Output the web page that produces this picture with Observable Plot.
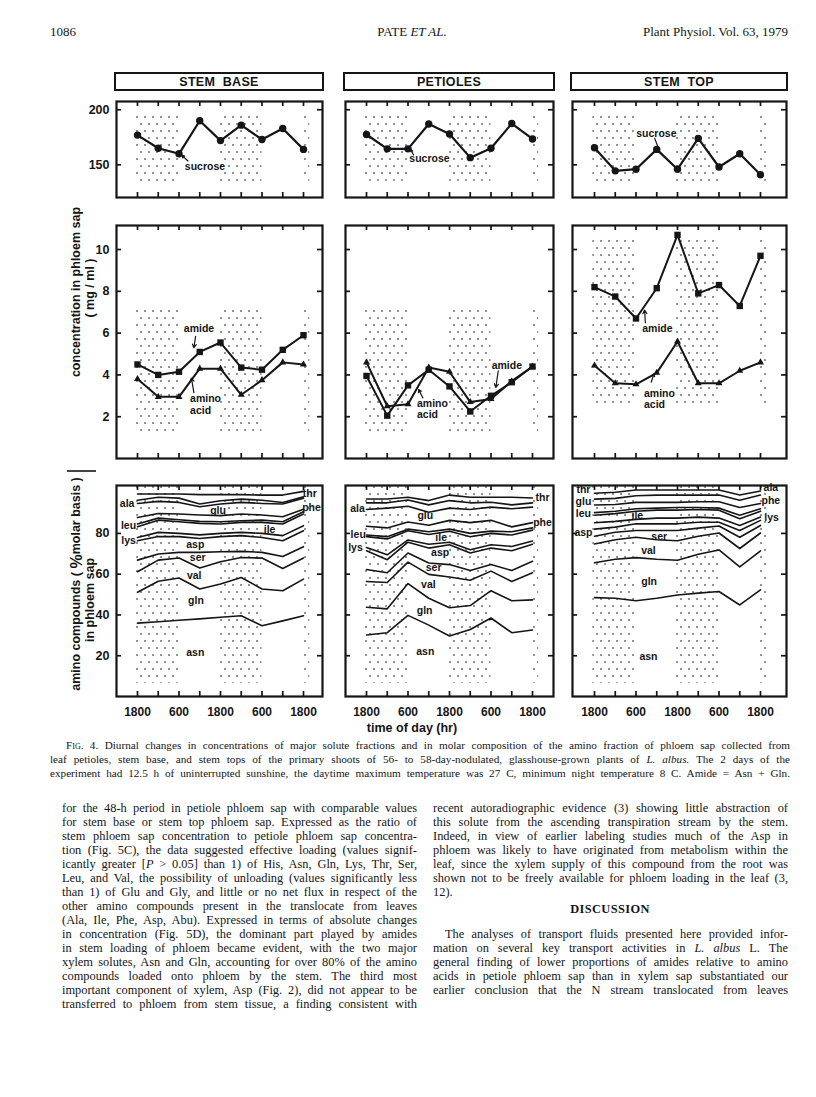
<!DOCTYPE html>
<html>
<head>
<meta charset="utf-8">
<script src="https://cdn.jsdelivr.net/npm/d3@7"></script>
<script src="https://cdn.jsdelivr.net/npm/@observablehq/plot@0.6"></script>
<style>
html,body{margin:0;padding:0;background:#fff;}
#page{position:relative;width:816px;height:1097px;overflow:hidden;background:#fff;color:#151515;}
.t{position:absolute;white-space:nowrap;font-family:"Liberation Serif","Times New Roman",serif;color:#151515;line-height:1;}
.box{position:absolute;border:2px solid #151515;box-sizing:border-box;font-family:"Liberation Sans",Arial,sans-serif;font-weight:bold;font-size:12.5px;white-space:pre;display:flex;align-items:center;justify-content:center;letter-spacing:0.3px;color:#151515;}
.sc{font-variant:small-caps;}
</style>
</head>
<body>
<div id="page">
<svg width="0" height="0" style="position:absolute;left:0;top:0">
<defs>
<pattern id="stip" patternUnits="userSpaceOnUse" width="8" height="14">
<rect x="1.3" y="2.3" width="1.4" height="1.4" fill="#222"/>
<rect x="5.3" y="9.3" width="1.4" height="1.4" fill="#222"/>
</pattern>
</defs>
</svg>
</div>
<script>
// ---------------- data ----------------
const hours = [0, 6, 12, 18, 24, 30, 36, 42, 48];
const clockHours = [0, 12, 24, 36, 48];
const clockLabels = ["1800", "600", "1800", "600", "1800"];
const nightStart = [-0.5, 23.5, 47.8];
const nightEnd = [12, 36, 49.8];
const panelNames = ["STEM  BASE", "PETIOLES", "STEM  TOP"];

// sucrose (top row)
const sucroseStemBase = [177, 165, 160, 190, 172, 186, 173, 183, 164];
const sucrosePetioles = [177.5, 164.5, 164.5, 187, 178, 156.5, 165, 187.5, 173.5];
const sucroseStemTop = [165.5, 144.5, 146, 164, 146, 174, 148, 160, 141];

// amide / amino acid (mg/ml, middle row)
const amideStemBase = [4.5, 4.0, 4.15, 5.1, 5.55, 4.35, 4.25, 5.2, 5.9];
const aminoStemBase = [3.8, 2.95, 2.95, 4.3, 4.3, 3.05, 3.75, 4.6, 4.5];
const amidePetioles = [3.95, 2.05, 3.5, 4.25, 3.45, 2.25, 3.0, 3.65, 4.4];
const aminoPetioles = [4.6, 2.5, 2.6, 4.35, 4.15, 2.7, 2.85, 3.7, 4.4];
const amideStemTop = [8.2, 7.75, 6.7, 8.15, 10.7, 7.9, 8.3, 7.3, 9.7];
const aminoStemTop = [4.45, 3.6, 3.55, 4.1, 5.6, 3.6, 3.6, 4.2, 4.6];

// cumulative % boundaries (bottom row), bottom to top
const compStemBase = [
  [36, 36.7, 37.4, 38.1, 38.9, 39.6, 34.7, 37.1, 39.6],   // asn
  [51.1, 56.5, 58.1, 52.7, 55.2, 58.4, 52.7, 51.9, 57.6], // gln
  [61.2, 66.9, 67.9, 63, 66.1, 68.2, 67.9, 62.8, 67.9],   // val
  [66.9, 69.9, 70.7, 70.7, 71, 71.2, 70.7, 68.7, 73.5],   // ser
  [76.4, 78.5, 78.4, 77.5, 78.4, 78.9, 78, 76.4, 81.3],   // asp
  [78, 80.5, 80, 79.3, 80, 80.5, 80, 78.9, 83.8],         // lys
  [83.3, 86.5, 85.7, 84.9, 84.6, 85.4, 85.4, 84.6, 89.5], // ile
  [84.6, 87.5, 86.7, 85.9, 85.7, 86.2, 86.5, 85.7, 90.6], // leu
  [87.8, 89.8, 89.5, 89, 88.7, 89.5, 89, 88.2, 91.9],     // phe
  [94.7, 95.7, 95.2, 93.1, 94.4, 95.2, 94.7, 94.4, 97.3], // glu
  [96.3, 97.7, 97.3, 94.4, 96, 96.8, 96.3, 95.2, 98],     // ala
  [99.3, 99.3, 99.3, 99, 99, 99, 98.8, 98.8, 100.6]       // thr
];
const compPetioles = [
  [30.2, 31.3, 39.8, 35, 29.7, 32.9, 38.5, 31.3, 32.6],
  [43.8, 43, 55.4, 48.2, 43.5, 44.6, 51.9, 47, 47.4],
  [56.4, 55.9, 65.9, 59.9, 58.6, 57, 61.5, 56.4, 60.7],
  [62.3, 60.7, 70.4, 65.5, 64.7, 61.8, 64.7, 61.8, 66.3],
  [71.5, 67.1, 75.7, 72.8, 74.4, 70.4, 72.8, 71.5, 74.7],
  [73.1, 69.5, 76.8, 74.7, 75.7, 72, 74.4, 73.6, 76.3],
  [78.4, 77.3, 81.3, 79.5, 81.1, 78.4, 80, 79.2, 81.6],
  [79.2, 78.4, 82.1, 80.8, 82.1, 80, 81.1, 80.8, 82.7],
  [83.5, 82.7, 85.6, 84, 86.4, 85.3, 86.4, 83.2, 85.3],
  [91.7, 92.4, 93.3, 90.4, 92.4, 91.7, 92.9, 92.1, 92.9],
  [95, 95, 96.4, 94, 96.1, 95, 95.3, 94, 95],
  [96.9, 96.9, 97.7, 96.1, 98.8, 97.7, 97.7, 97.7, 97.4]
];
const compStemTop = [
  [48.5, 48.2, 47, 48.2, 49.8, 50.7, 51.5, 44.9, 52.3],
  [65.6, 67.3, 68.1, 67.3, 66.8, 69.8, 71.9, 63.6, 71.4],
  [74.8, 76.9, 78.1, 76.9, 76.4, 78.6, 80.2, 72.6, 80.2],
  [78.6, 80.6, 81.4, 81.4, 81.4, 82.6, 83.6, 78.1, 83.9],
  [82.1, 83.1, 84.7, 84.7, 84.7, 85.5, 85.5, 81.4, 86.4],
  [85.2, 85.9, 86.9, 87.5, 87.5, 88, 87.5, 83.9, 88],
  [88.9, 89.7, 90.9, 91.4, 91.4, 91.7, 91.4, 87.2, 90.9],
  [90.2, 90.9, 92.1, 92.4, 92.7, 92.7, 92.4, 88.9, 92.1],
  [93.9, 94.2, 95.2, 95.2, 95.2, 95.5, 95.5, 92.7, 94.7],
  [96.8, 97.2, 98.5, 98.8, 98.8, 98.8, 98.8, 96.3, 98.8],
  [99.7, 100.2, 101.3, 101.3, 101.3, 101.3, 101.3, 98.8, 100.8]
];

// band labels (text, hour, %)
const labelsStemBase = [
  {t: "ala", h: -3, v: 94.7}, {t: "leu", h: -2.6, v: 83.6}, {t: "lys", h: -2.6, v: 76.4},
  {t: "glu", h: 23.3, v: 91.4}, {t: "ile", h: 38.2, v: 81.8}, {t: "asp", h: 16.7, v: 74.3},
  {t: "ser", h: 17.4, v: 68.2}, {t: "val", h: 16.4, v: 59.2}, {t: "gln", h: 16.9, v: 47},
  {t: "asn", h: 16.7, v: 21.6}, {t: "thr", h: 49.8, v: 99.6}, {t: "phe", h: 50.3, v: 92.7}
];
const labelsPetioles = [
  {t: "ala", h: -2.6, v: 92.4}, {t: "leu", h: -2.4, v: 79.4}, {t: "lys", h: -3.2, v: 72.8},
  {t: "glu", h: 17, v: 88.5}, {t: "ile", h: 21.6, v: 77.9}, {t: "asp", h: 21.3, v: 70.4},
  {t: "ser", h: 19.4, v: 63.4}, {t: "val", h: 17.9, v: 54.8}, {t: "gln", h: 16.8, v: 42.2},
  {t: "asn", h: 17, v: 21.8}, {t: "thr", h: 50.9, v: 97.7}, {t: "phe", h: 50.9, v: 85.3}
];
const labelsStemTop = [
  {t: "thr", h: -3.2, v: 101.3}, {t: "glu", h: -3.2, v: 95.4}, {t: "leu", h: -3.2, v: 89.6},
  {t: "asp", h: -3.2, v: 80.2}, {t: "ile", h: 12.4, v: 88.9}, {t: "ser", h: 18.7, v: 78.6},
  {t: "val", h: 15.6, v: 71.4}, {t: "gln", h: 15.8, v: 56.5}, {t: "asn", h: 15.6, v: 19.4},
  {t: "ala", h: 51, v: 102.4}, {t: "phe", h: 51, v: 96.1}, {t: "lys", h: 51.2, v: 87.6}
];

// ---------------- layout ----------------
const INK = "#151515";
const page = document.getElementById("page");
const cols = [
  {x0: 116, x1: 322, h0: 137},
  {x0: 345, x1: 553, h0: 366},
  {x0: 572, x1: 786, h0: 594}
];
const PX_PER_H = 166 / 48;
const rows = {
  top: {y0: 101, y1: 197, dom: [120.3, 207.5], ticks: [150, 200]},
  mid: {y0: 225, y1: 458, dom: [0, 11.15], ticks: [2, 4, 6, 8, 10]},
  bot: {y0: 485, y1: 696, dom: [0, 103.5], ticks: [20, 40, 60, 80]}
};

const rowsOf = arr => arr.map((v, i) => ({h: hours[i], v}));

function panel(ci, row, stip, marks, xLabels) {
  const col = cols[ci];
  const W = col.x1 - col.x0, H = row.y1 - row.y0;
  const mL = 45, mR = 45, mT = 15, mB = 32;
  const xDomain = [(col.x0 - col.h0) / PX_PER_H, (col.x1 - col.h0) / PX_PER_H];
  const nights = nightStart.map((s, i) => ({s, e: nightEnd[i]}));
  const all = [
    Plot.rect(nights, {x1: "s", x2: "e", y1: stip[0], y2: stip[1], fill: "black"}),
    ...marks,
    Plot.ruleX(hours, {x: d => d, insetBottom: H - 5, stroke: INK, strokeWidth: 1.7}),
    Plot.ruleX(hours, {x: d => d, insetTop: H - 5, stroke: INK, strokeWidth: 1.7}),
    Plot.ruleY(row.ticks, {y: d => d, insetRight: W - 5, stroke: INK, strokeWidth: 1.7}),
    Plot.ruleY(row.ticks, {y: d => d, insetLeft: W - 5, stroke: INK, strokeWidth: 1.7}),
    Plot.frame({stroke: INK, strokeWidth: 2.2})
  ];
  if (ci === 0) all.push(Plot.text(row.ticks, {x: xDomain[0], y: d => d, dx: -7, textAnchor: "end", text: d => String(d), fontSize: 12.5, fill: INK}));
  if (xLabels) all.push(Plot.text(clockHours, {x: d => d, y: row.dom[0], dy: 16, text: (d, i) => clockLabels[i], fontSize: 12, fill: INK}));
  const svg = Plot.plot({
    width: W + mL + mR, height: H + mT + mB,
    marginLeft: mL, marginRight: mR, marginTop: mT, marginBottom: mB,
    x: {domain: xDomain, axis: null, label: null},
    y: {domain: row.dom, axis: null, label: null},
    style: {background: "transparent", overflow: "visible", maxWidth: "none",
            fontFamily: "'Liberation Sans', Arial, sans-serif", fontWeight: "bold", color: INK},
    marks: all
  });
  const g = svg.querySelector('g[aria-label="rect"]');
  if (g) g.setAttribute("fill", "url(#stip)");
  const div = document.createElement("div");
  div.style.cssText = `position:absolute;left:${col.x0 - mL}px;top:${row.y0 - mT}px;width:${W + mL + mR}px;height:${H + mT + mB}px;`;
  div.append(svg);
  page.append(div);
}

const lbl = {fontSize: 10.5, fill: INK};
const arrowOpt = {x1: "a", y1: "b", x2: "c", y2: "d", stroke: INK, strokeWidth: 1.2, headLength: 5};

function topMarks(series, label, arrow, noHead) {
  const d = rowsOf(series);
  return [
    Plot.line(d, {x: "h", y: "v", stroke: INK, strokeWidth: 2.2}),
    Plot.dot(d, {x: "h", y: "v", r: 3.7, fill: INK}),
    Plot.text([label], {x: "h", y: "v", text: "t", ...lbl}),
    Plot.arrow([arrow], {...arrowOpt, headLength: noHead ? 0 : 5})
  ];
}
function midMarks(amide, amino, texts, arrows) {
  const a = rowsOf(amide), b = rowsOf(amino);
  return [
    Plot.line(a, {x: "h", y: "v", stroke: INK, strokeWidth: 2}),
    Plot.line(b, {x: "h", y: "v", stroke: INK, strokeWidth: 2}),
    Plot.dot(a, {x: "h", y: "v", symbol: "square", r: 3.6, fill: INK}),
    Plot.dot(b, {x: "h", y: "v", symbol: "triangle", r: 2.6, fill: INK}),
    Plot.text(texts, {x: "h", y: "v", text: "t", textAnchor: "start", ...lbl}),
    Plot.arrow(arrows, arrowOpt)
  ];
}
function botMarks(comp, labels) {
  const tidy = comp.flatMap((arr, k) => arr.map((v, i) => ({h: hours[i], v, k})));
  return [
    Plot.line(tidy, {x: "h", y: "v", z: "k", stroke: INK, strokeWidth: 1.6}),
    Plot.text(labels, {x: "h", y: "v", text: "t", ...lbl})
  ];
}

// top row
panel(0, rows.top, [135, 196], topMarks(sucroseStemBase, {t: "sucrose", h: 19.5, v: 148}, {a: 14.6, b: 153.5, c: 12.9, d: 158.5}));
panel(1, rows.top, [135, 196], topMarks(sucrosePetioles, {t: "sucrose", h: 18.2, v: 156}, {a: 13.6, b: 159, c: 12.9, d: 163.5}));
panel(2, rows.top, [135, 196], topMarks(sucroseStemTop, {t: "sucrose", h: 17.9, v: 178}, {a: 17.4, b: 174, c: 18.2, d: 167.5}, true));

// middle row
panel(0, rows.mid, [1.3, 7.15], midMarks(amideStemBase, aminoStemBase,
  [{t: "amide", h: 13.4, v: 6.2}, {t: "amino", h: 15.2, v: 2.86}, {t: "acid", h: 15.2, v: 2.3}],
  [{a: 16.8, b: 5.85, c: 16.3, d: 5.3}, {a: 16.3, b: 3.15, c: 15.6, d: 3.85}]));
panel(1, rows.mid, [1.25, 7.1], midMarks(amidePetioles, aminoPetioles,
  [{t: "amino", h: 14.6, v: 2.64}, {t: "acid", h: 14.6, v: 2.1}, {t: "amide", h: 36.2, v: 4.45}],
  [{a: 16.3, b: 2.9, c: 15.1, d: 3.3}, {a: 38.1, b: 4.2, c: 37.4, d: 3.4}]));
panel(2, rows.mid, [2.6, 10.6], midMarks(amideStemTop, aminoStemTop,
  [{t: "amide", h: 13.8, v: 6.2}, {t: "amino", h: 14.3, v: 3.12}, {t: "acid", h: 14.3, v: 2.56}],
  [{a: 14.7, b: 6.5, c: 14.5, d: 7.1}, {a: 16.4, b: 3.65, c: 17.2, d: 4.05}]));

// bottom row
panel(0, rows.bot, [6.5, 103.5], botMarks(compStemBase, labelsStemBase), true);
panel(1, rows.bot, [6.5, 103.5], botMarks(compPetioles, labelsPetioles), true);
panel(2, rows.bot, [6.5, 103.5], botMarks(compStemTop, labelsStemTop), true);

// panel header boxes
cols.forEach((c, i) => {
  const b = document.createElement("div");
  b.className = "box";
  b.style.left = (c.x0 - 2) + "px";
  b.style.top = "72px";
  b.style.width = (c.x1 - c.x0 + 4) + "px";
  b.style.height = "19px";
  b.textContent = panelNames[i];
  page.append(b);
});

// overlay svg: axis titles
const ns = "http://www.w3.org/2000/svg";
const ov = document.createElementNS(ns, "svg");
ov.setAttribute("width", 816); ov.setAttribute("height", 1097);
ov.style.cssText = "position:absolute;left:0;top:0;pointer-events:none;";
ov.innerHTML = `
<g font-family="'Liberation Sans', Arial, sans-serif" font-weight="bold" fill="${INK}" font-size="12.5">
<text transform="translate(76,292) rotate(-90)" text-anchor="middle" dominant-baseline="central">concentration in phloem sap</text>
<text transform="translate(90,288) rotate(-90)" text-anchor="middle" dominant-baseline="central">( mg / ml )</text>
<text transform="translate(76,584) rotate(-90)" text-anchor="middle" dominant-baseline="central">amino compounds ( <tspan font-size="16">%</tspan>molar basis )</text>
<text transform="translate(90,600) rotate(-90)" text-anchor="middle" dominant-baseline="central">in phloem sap</text>
<text x="412" y="728" text-anchor="middle" dominant-baseline="central" font-size="12.5">time of day (hr)</text>
</g>
<line x1="67" x2="96" y1="471" y2="471" stroke="${INK}" stroke-width="1.6"/>`;
page.append(ov);

// ---------------- page text ----------------
function line(html, x, yc, size, width, extra) {
  const s = document.createElement("span");
  s.className = "t";
  s.innerHTML = html;
  s.style.left = x + "px";
  s.style.fontSize = size + "px";
  if (extra) Object.assign(s.style, extra);
  page.append(s);
  const r = s.getBoundingClientRect();
  s.style.top = (yc - r.height / 2) + "px";
  if (width) {
    const n = (s.textContent.match(/ /g) || []).length;
    if (n) s.style.wordSpacing = ((width - r.width) / n) + "px";
  }
  return s;
}

line("1086", 50, 31, 13);
const hdr = line("PATE <i>ET AL.</i>", 0, 31, 13);
hdr.style.left = (412 - hdr.getBoundingClientRect().width / 2) + "px";
const hr = line("Plant Physiol. Vol. 63, 1979", 0, 31, 13);
hr.style.left = (788 - hr.getBoundingClientRect().width) + "px";

const captionLines = [
  '<span class="sc">Fig</span>. 4. Diurnal changes in concentrations of major solute fractions and in molar composition of the amino fraction of phloem sap collected from',
  'leaf petioles, stem base, and stem tops of the primary shoots of 56- to 58-day-nodulated, glasshouse-grown plants of <i>L. albus.</i> The 2 days of the',
  'experiment had 12.5 h of uninterrupted sunshine, the daytime maximum temperature was 27 C, minimum night temperature 8 C. Amide = Asn + Gln.'
];
line(captionLines[0], 66, 746, 11.2, 790 - 66);
line(captionLines[1], 50, 760, 11.2, 790 - 50);
line(captionLines[2], 50, 774, 11.2, 790 - 50);

const leftCol = [
  "for the 48-h period in petiole phloem sap with comparable values",
  "for stem base or stem top phloem sap. Expressed as the ratio of",
  "stem phloem sap concentration to petiole phloem sap concentra-",
  "tion (Fig. 5C), the data suggested effective loading (values signif-",
  "icantly greater [<i>P</i> &gt; 0.05] than 1) of His, Asn, Gln, Lys, Thr, Ser,",
  "Leu, and Val, the possibility of unloading (values significantly less",
  "than 1) of Glu and Gly, and little or no net flux in respect of the",
  "other amino compounds present in the translocate from leaves",
  "(Ala, Ile, Phe, Asp, Abu). Expressed in terms of absolute changes",
  "in concentration (Fig. 5D), the dominant part played by amides",
  "in stem loading of phloem became evident, with the two major",
  "xylem solutes, Asn and Gln, accounting for over 80% of the amino",
  "compounds loaded onto phloem by the stem. The third most",
  "important component of xylem, Asp (Fig. 2), did not appear to be",
  "transferred to phloem from stem tissue, a finding consistent with"
];
leftCol.forEach((s, i) => line(s, 62, 808 + 14 * i, 12.4, 355));

const rightTop = [
  "recent autoradiographic evidence (3) showing little abstraction of",
  "this solute from the ascending transpiration stream by the stem.",
  "Indeed, in view of earlier labeling studies much of the Asp in",
  "phloem was likely to have originated from metabolism within the",
  "leaf, since the xylem supply of this compound from the root was",
  "shown not to be freely available for phloem loading in the leaf (3,",
  "12)."
];
rightTop.forEach((s, i) => line(s, 433, 808 + 14 * i, 12.4, i < 6 ? 355 : 0));
const disc = line("DISCUSSION", 0, 909, 12.4, 0, {fontWeight: "bold", letterSpacing: "0.4px"});
disc.style.left = (610 - disc.getBoundingClientRect().width / 2) + "px";
const rightBottom = [
  "The analyses of transport fluids presented here provided infor-",
  "mation on several key transport activities in <i>L. albus</i> L. The",
  "general finding of lower proportions of amides relative to amino",
  "acids in petiole phloem sap than in xylem sap substantiated our",
  "earlier conclusion that the N stream translocated from leaves"
];
rightBottom.forEach((s, i) => line(s, i === 0 ? 445 : 433, 934 + 14 * i, 12.4, i === 0 ? 343 : 355));
</script>
</body>
</html>
